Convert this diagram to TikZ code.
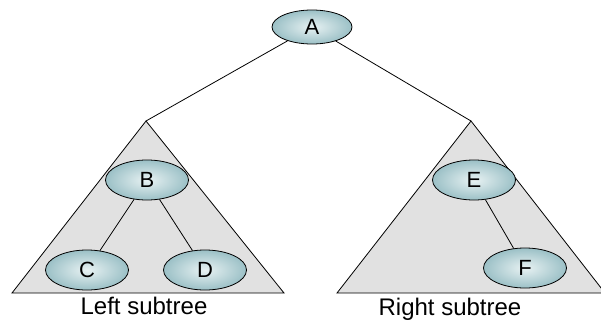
\documentclass[tikz,border=0pt]{standalone}
\usepackage{fontspec}
\setmainfont{Liberation Sans}
\usetikzlibrary{shapes.geometric}
\definecolor{ellvora}{RGB}{155,192,198}
\definecolor{ellcentre}{RGB}{232,242,243}
\definecolor{fonsarbre}{RGB}{225,225,225}

\begin{document}
\begin{tikzpicture}[x=1pt, y=-1pt, line width=0.8pt,
    nus/.style={ellipse, draw, inner sep=0pt, minimum width=83pt, minimum height=40pt,
                inner color=ellcentre, outer color=ellvora, font=\fontsize{22}{26}\selectfont},
    etiqueta/.style={font=\fontsize{24}{28}\selectfont, inner sep=0pt}]
    \useasboundingbox (0,0) rectangle (601,321);
    \clip (0,0) rectangle (601,321);

    % TRIANGLES DELS SUBARBRES
    \coordinate (ve) at (146,121);
    \coordinate (vd) at (471,121);
    \draw[fill=fonsarbre] (ve) -- (12,293) -- (284,293) -- cycle;
    \draw[fill=fonsarbre] (vd) -- (337,293) -- (605,293) -- cycle;

    % ARREL
    \node[nus, minimum width=80pt, minimum height=34pt] (A) at (312,27) {A};
    \draw (A) -- (ve);
    \draw (A) -- (vd);

    % SUBARBRE ESQUERRE
    \node[nus] (B) at (147,180) {B};
    \node[nus] (C) at (87,270) {C};
    \node[nus] (D) at (205,270) {D};
    \draw (B) -- (C);
    \draw (B) -- (D);

    % SUBARBRE DRET
    \node[nus] (E) at (474,180) {E};
    \node[nus] (F) at (525,268) {F};
    \draw (E) -- (F);

    % ETIQUETES
    \node[etiqueta] (le) at (144,306) {Left subtree};
    \node[etiqueta] (ld) at (450,309) {Right subtree};
\end{tikzpicture}
\end{document}
